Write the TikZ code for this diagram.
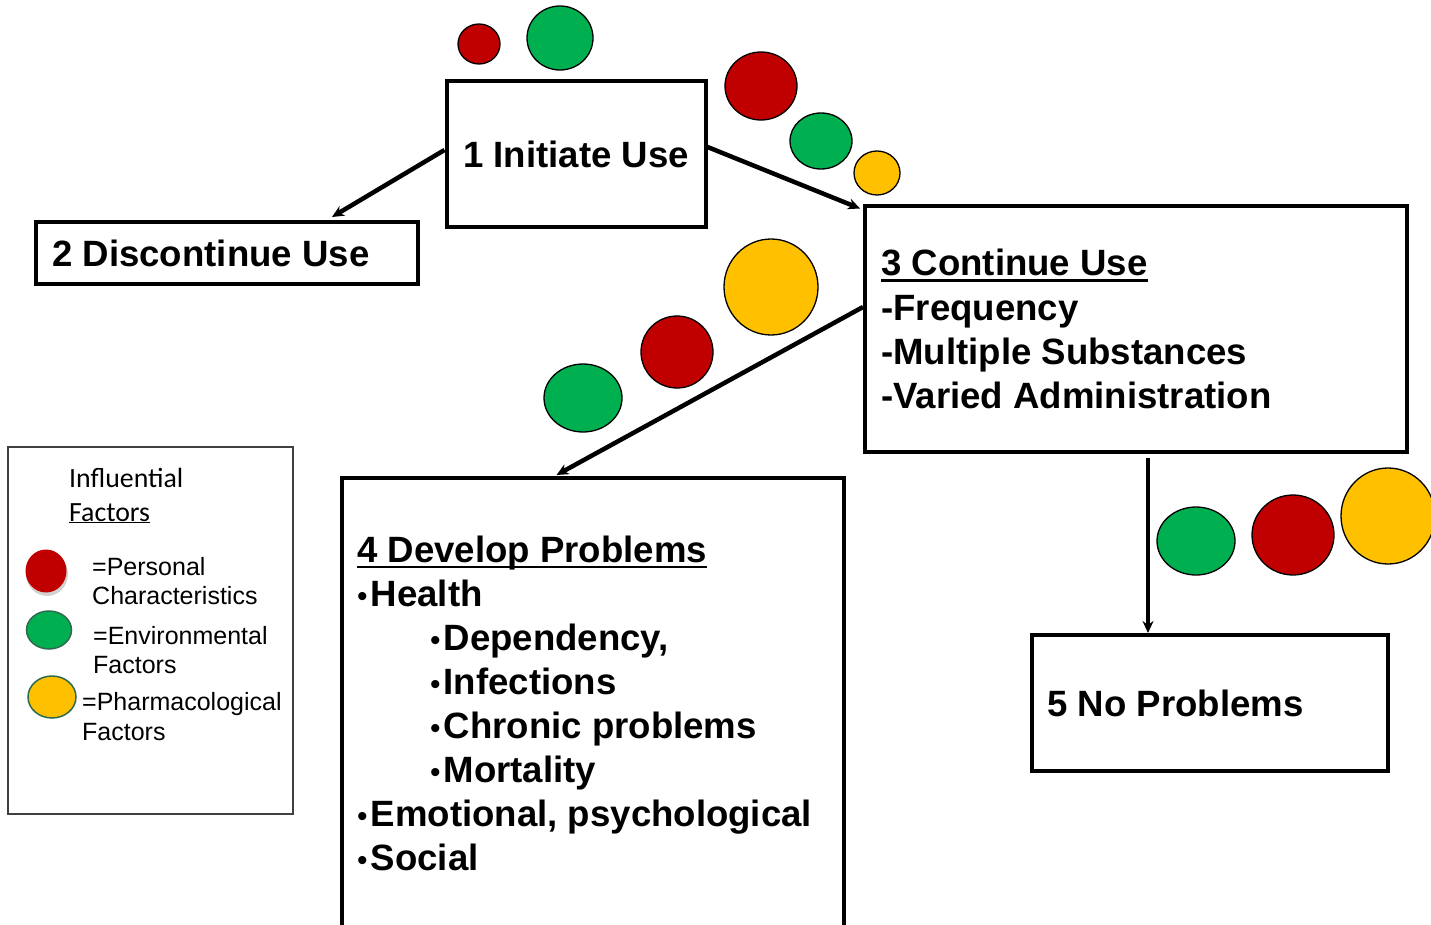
\documentclass[tikz,border=0pt]{standalone}
\usepackage{fontspec}
\setmainfont{Liberation Sans}
\newfontfamily\legfont{Carlito}
\usetikzlibrary{arrows.meta}
\definecolor{cred}{HTML}{C00000}
\definecolor{cgreen}{HTML}{00B050}
\definecolor{cyellow}{HTML}{FFC000}
\definecolor{legborder}{HTML}{404040}
\definecolor{dkgreen}{HTML}{2E6B4F}
\newcommand\myul[2]{\setbox0\hbox{#2}\rlap{\rule[-#1]{\wd0}{2.5pt}}\box0}
\newcommand\bul{{\mdseries\fontsize{30}{30}\selectfont •}\kern3pt}
\begin{document}
\begin{tikzpicture}[x=1pt,y=-1pt,
  box/.style={draw,line width=4pt,rectangle,inner sep=0pt},
  big/.style={font=\bfseries\fontsize{36.6}{44}\selectfont,inner sep=0pt,anchor=base west},
  leg/.style={font=\fontsize{25}{30}\selectfont,inner sep=0pt,anchor=base west},
  conn/.style={line width=4.5pt,-{Stealth[length=12pt,width=11pt]}},
  dot/.style={draw,line width=1.3pt},
]
\useasboundingbox (0,0) rectangle (1431,925);
% boxes
\node[box,minimum width=259pt,minimum height=146pt] (b1) at (576,154) {};
\node[box,minimum width=382pt,minimum height=62pt] (b2) at (227,253) {};
\node[box,minimum width=542pt,minimum height=245pt] (b3) at (1136,329) {};
\node[box,minimum width=502pt,minimum height=460pt] (b4) at (592.5,708) {};
\node[box,minimum width=356pt,minimum height=136pt] (b5) at (1209.5,703) {};
\node[draw=legborder,line width=2pt,minimum width=285pt,minimum height=367pt,inner sep=0pt] (leg) at (150.5,630.5) {};
% texts
\node[big] (t1) at (463,168) {1 Initiate Use};
\node[big] (t2) at (52,266) {2 Discontinue Use};
\node[big] (t3a) at (881,276) {\myul{6pt}{3 Continue Use}};
\node[big] (t3b) at (881,320) {-Frequency};
\node[big] (t3c) at (881,364) {-Multiple Substances};
\node[big] (t3d) at (881,408) {-Varied Administration};
\node[big] (t4a) at (357,562) {\myul{6pt}{4 Develop Problems}};
\node[big] (t4b) at (357,606) {\bul Health};
\node[big] (t4c) at (430,650) {\bul Dependency,};
\node[big] (t4d) at (430,694) {\bul Infections};
\node[big] (t4e) at (430,738) {\bul Chronic problems};
\node[big] (t4f) at (430,782) {\bul Mortality};
\node[big] (t4g) at (357,826) {\bul Emotional, psychological};
\node[big] (t4h) at (357,870) {\bul Social};
\node[big] (t5) at (1047,716) {5 No Problems};
% legend
\node[leg,font=\legfont\fontsize{27.8}{30}\selectfont] (l1) at (69,487) {Influential};
\node[leg,font=\legfont\fontsize{27.8}{30}\selectfont] (l2) at (69,521) {\underline{Factors}};
\node[leg] (l3) at (92,575) {=Personal};
\node[leg] (l4) at (92,604) {Characteristics};
\node[leg] (l5) at (93,644) {=Environmental};
\node[leg] (l6) at (93,673) {Factors};
\node[leg] (l7) at (82,710) {=Pharmacological};
\node[leg] (l8) at (82,740) {Factors};
\fill[black!35,opacity=0.5] (47,574) ellipse [x radius=21,y radius=22];
\fill[cred] (46,571) ellipse [x radius=20.5,y radius=21.5];
\draw[fill=cgreen,draw=dkgreen,line width=1.5pt] (49,630) ellipse [x radius=22.5,y radius=19];
\draw[fill=cyellow,draw=dkgreen,line width=1.5pt] (52,697) ellipse [x radius=24,y radius=21];
% circles
\draw[dot,fill=cred] (479,44) ellipse [x radius=21,y radius=20];
\draw[dot,fill=cgreen] (560,38) ellipse [x radius=33,y radius=32];
\draw[dot,fill=cred] (761,86) ellipse [x radius=36,y radius=34];
\draw[dot,fill=cgreen] (821,141) ellipse [x radius=31,y radius=28];
\draw[dot,fill=cyellow] (877,173) ellipse [x radius=23,y radius=22];
\draw[dot,fill=cyellow] (771,287) ellipse [x radius=47,y radius=48];
\draw[dot,fill=cred] (677,352) ellipse [x radius=36,y radius=36];
\draw[dot,fill=cgreen] (583,398) ellipse [x radius=39,y radius=34];
\draw[dot,fill=cgreen] (1196,541) ellipse [x radius=39,y radius=34];
\draw[dot,fill=cred] (1293,535) ellipse [x radius=41,y radius=40];
\draw[dot,fill=cyellow] (1388,516) ellipse [x radius=47,y radius=48];
% connectors
\draw[conn] ([yshift=4pt]b1.west) -- ([xshift=105pt,yshift=3pt]b2.north);
\draw[conn] ([yshift=7pt]b1.east) -- ([xshift=-3pt,yshift=-4pt]b3.north west);
\draw[conn] ([yshift=22pt]b3.west) -- ([xshift=-36pt,yshift=1pt]b4.north);
\draw[conn] ([xshift=12pt,yshift=-4pt]b3.south) -- ([xshift=-61.5pt]b5.north);
\end{tikzpicture}
\end{document}
